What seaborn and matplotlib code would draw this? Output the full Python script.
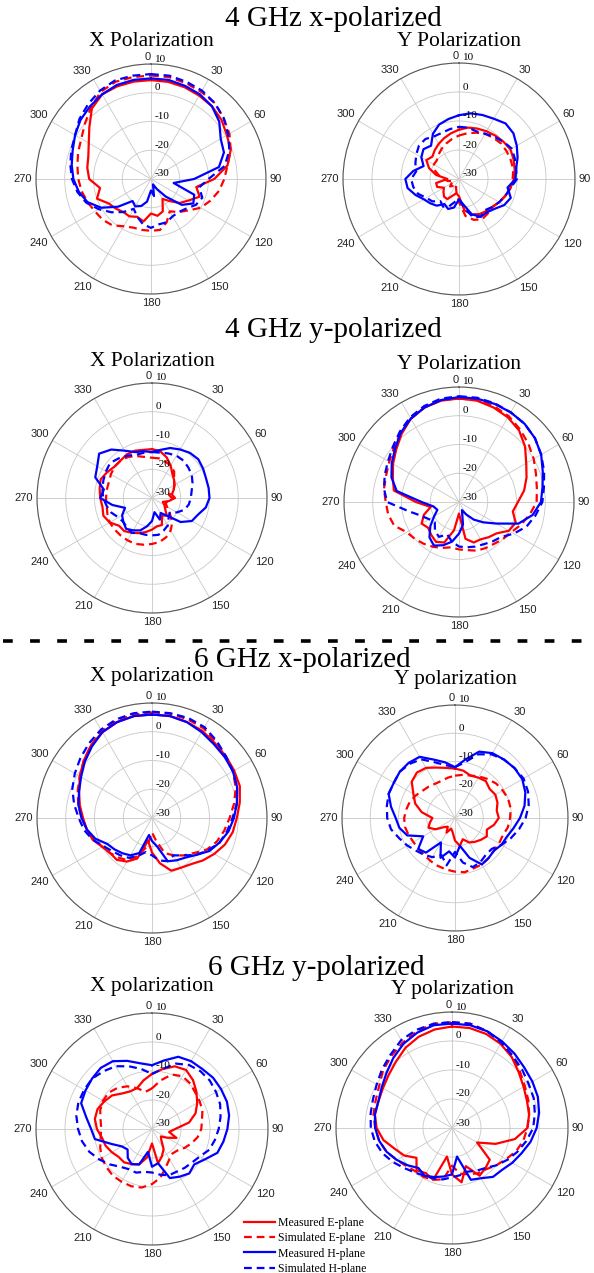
import numpy as np
import pandas as pd
import seaborn as sns
import matplotlib.pyplot as plt
from matplotlib.lines import Line2D
from matplotlib.transforms import offset_copy

# angles in degrees, clockwise from top; gains in dB
angles = np.arange(0, 360, 10)

# 4 GHz x-polarized, X polarization
p1_me = [4.4, 4.3, 4, 3.5, 3, 2, 0.5, -0.5, -3, -8, -14, -12, -15, -17, -20, -22, -18, -17,
         -18, -15, -16, -15, -15, -14, -13, -10, -12, -8.5, -7.5, -6.8, -5, -2, 2, 4, 4.3, 4.4]
p1_se = [6, 6, 5.5, 5, 4.5, 3, 1.5, -0.5, -3, -4.5, -6, -8, -10, -13, -15, -17, -14, -12,
         -12, -12, -12, -11, -9, -8, -7.5, -6.5, -5.5, -4.7, -4, -3, -2, 0, 2.5, 5, 6, 6]
p1_mh = [5, 5, 4.5, 4, 3, 1, -2, -3, -6, -15, -22, -14, -13, -16, -22, -26, -28, -24,
         -26, -22, -20, -19, -20, -15, -10, -6.5, -4.5, -3, -2, -1, 0.5, 2, 3, 4, 4.8, 5]
p1_sh = [6.5, 6.5, 6, 5.5, 4.5, 3, 1, -1, -4, -10, -13, -11, -12, -14, -15, -15, -14, -14,
         -13, -14, -16, -18, -15, -12, -9, -6, -4, -2.5, -1.5, -0.5, 0.5, 2.5, 4, 5.5, 6.5, 6.5]

# 4 GHz x-polarized, Y polarization
p2_me = [-13, -12, -11.5, -11, -10.5, -10, -9.5, -10, -10.5, -11, -12, -13, -14, -15, -15.5, -16, -17, -19,
         -24, -25, -24, -22, -22, -23, -24, -22, -22, -26, -22, -19, -17, -18, -17, -16, -15, -14]
p2_se = [-15, -14, -13, -12, -11.5, -11, -11, -11, -11, -11.5, -12, -13, -14, -15, -14.5, -14, -15, -17,
         -22, -25, -27, -28, -27, -26, -27, -28, -26, -25, -23, -21, -20, -20, -19, -18, -17, -16]
p2_mh = [-8, -7, -6.5, -6, -5, -5.5, -7, -8.5, -10, -10.5, -13, -11, -12, -14, -15, -15, -17, -21,
         -23, -20, -19, -20, -18, -17, -16, -14, -12, -11.5, -14, -17, -15, -14, -15, -12, -10, -9]
p2_sh = [-12, -12, -12.5, -12, -11, -10, -9, -9.5, -10, -10, -12, -13, -14, -15, -16, -15, -16, -20,
         -23, -22, -20, -19, -20, -18, -17, -15, -14, -13.5, -15, -14, -13, -12, -12, -13, -13, -12.5]

# 4 GHz y-polarized, X polarization
p3_me = [-13, -13.5, -15, -17, -19, -20, -21, -22, -23, -22, -24, -26, -25, -24, -22, -23, -20, -20,
         -19, -18, -17, -16, -15, -15, -13, -12, -12.5, -12, -11.5, -11, -12, -13, -13, -12.5, -12.5, -13]
p3_se = [-16, -16, -16.5, -17, -18, -20, -21, -22, -24, -23, -24, -25, -24, -22, -19, -17, -15.5, -14.5,
         -14, -13.5, -13, -13, -13, -13, -13, -13.5, -14, -14, -14, -14, -13.5, -13, -13, -13.5, -14.5, -15.5]
p3_mh = [-14, -13, -11.5, -10.5, -9.5, -9, -9.5, -10, -10, -10, -11, -13, -14, -17, -22, -24, -22, -25,
         -22, -20, -18, -17, -16, -17, -18, -20, -16, -12, -13, -9, -8, -6, -8, -11, -13, -13.5]
p3_sh = [-14, -14, -13.5, -13, -13, -13.5, -14, -15, -16, -16.5, -17, -18, -20, -22, -21, -19, -18, -17,
         -17, -17, -17, -16, -16.5, -17, -16.5, -15, -14, -13, -12.5, -12, -11.5, -11, -12, -13, -14, -14]

# 4 GHz y-polarized, Y polarization
p4_me = [6, 5.8, 5, 4, 2.5, 0, -3, -5, -7, -9.5, -11, -9, -10, -13, -14, -15, -15, -17,
         -26, -20, -15, -14, -15, -16, -15, -17, -20, -15, -7, -5.5, -3.5, -1.5, 1, 3.5, 5, 5.8]
p4_se = [6, 6, 5.5, 4.5, 3, 1.5, 0, -1.5, -2.5, -3, -5, -7, -9, -10, -11, -11.5, -12, -13,
         -13.5, -14, -13, -12, -11, -10, -9, -6, -5, -4.5, -3.5, -3, -2, -0.5, 1.5, 3.5, 5, 6]
p4_mh = [6.5, 6.5, 6.3, 6, 5.5, 4.5, 3, 1, -0.5, -1.5, -4, -8, -15, -19, -22, -25, -27, -22,
         -19, -16, -14, -12.5, -14, -17, -20, -22, -21, -17, -8, -5, -3, -1, 1.5, 3.5, 5, 6]
p4_sh = [6.8, 6.8, 6.5, 6, 5.5, 4.5, 3, 1.5, 0, -1, -3, -5, -8, -11, -12, -13, -13.5, -14,
         -14.5, -16, -18, -16, -17, -19, -18, -16, -12, -5, -3.5, -2.5, -1.5, 0, 2, 4, 5.5, 6.5]

# 6 GHz x-polarized, X polarization
p5_me = [6, 6, 5.5, 5, 4, 3.5, 3, 2.5, 1, -0.5, -1.5, -3, -5, -7, -9, -10, -10.5, -14,
         -18, -22, -15, -12.5, -11, -11, -10, -8, -7, -6, -4.5, -3, -1, 1, 3, 4.5, 5.5, 6]
p5_se = [6.8, 6.8, 6.5, 6, 4.5, 3.5, 2.5, 1, -1, -3, -4.5, -6, -8, -11, -13, -15, -17, -22,
         -25, -20, -16, -13, -12, -11, -10, -8.5, -7, -5.5, -4, -2.5, -1, 1, 3, 5, 6, 6.5]
p5_mh = [6, 6, 5.5, 4.5, 3.5, 3, 2.5, 1.5, 0, -1.5, -3, -5, -7, -10, -12, -13, -14, -20,
         -22, -24, -17, -15, -14, -13, -12, -9, -7, -5.5, -4, -3, -1.5, 0.5, 2.5, 4.5, 5.5, 6]
p5_sh = [7, 7, 7, 6.5, 5, 3.5, 2.5, 1.5, 0, -2, -3.5, -5, -7.5, -10, -13, -15, -14, -15,
         -17, -18, -16, -14, -13, -12, -10.5, -8, -6, -4.5, -2.5, -0.5, 1, 2.5, 4, 5.5, 6.5, 7]

# 6 GHz x-polarized, Y polarization
p6_me = [-12.5, -13, -14, -13.5, -13, -14, -13.5, -14, -15, -14.5, -16, -18, -17, -18, -19, -20, -22, -20,
         -22, -25, -26, -24, -26, -25, -22, -20, -21, -22, -18, -15, -13, -10, -9, -9.5, -11, -12]
p6_se = [-15, -14.5, -14, -13, -12, -11, -10.5, -10, -10, -10.5, -11, -12, -12, -12, -11.5, -11, -11, -10.5,
         -11, -11.5, -12, -12.5, -13, -13, -13, -12.5, -12, -12, -12.5, -13, -14, -15, -15.5, -16, -16, -15.5]
p6_mh = [-12, -9, -5, -3.5, -3, -2.5, -2.5, -3.5, -5, -7, -9, -10.5, -11, -12, -11.5, -11, -15, -20,
         -16, -18, -15, -20, -14, -13, -17, -12, -10, -9, -7, -5, -5, -4.5, -4.5, -5, -8, -10]
p6_sh = [-12, -10, -6, -4, -3, -2.5, -2, -2.5, -3.5, -5, -7, -9, -11, -13, -13, -12, -11.5, -14,
         -18, -13, -16, -14, -13, -12, -10.5, -9, -7, -6, -5.5, -5, -5, -4.5, -5, -6, -9, -11]

# 6 GHz y-polarized, X polarization
p7_me = [-11, -9, -7, -6.5, -8, -10, -12, -14, -17, -22, -24, -21, -24, -26, -25, -22, -20, -18,
         -25, -20, -17, -16, -15, -15, -14, -13, -12.5, -11, -10, -10, -11, -12, -14, -15, -15, -13]
p7_se = [-16, -13, -10, -9, -9.5, -10.5, -11, -11.5, -12.5, -13, -14, -15.5, -17, -18.5, -19, -18, -16, -13,
         -11, -9.5, -9, -9, -9, -9.5, -10, -11, -12, -12.5, -12, -11, -10.5, -10.5, -11.5, -13, -15, -17]
p7_mh = [-8, -6, -3.5, -3, -3, -2.5, -2.5, -2.5, -3, -4, -5, -6, -9, -11, -10, -11, -12, -18,
         -17, -22, -17, -16, -17, -19, -18, -15, -10, -9, -7, -4, -3.5, -3, -2.5, -3, -5, -7]
p7_sh = [-11, -9, -6, -4.5, -4, -4, -4.5, -5, -6, -7, -8, -9, -11, -12, -12.5, -13, -13, -14,
         -15, -15, -14, -14, -13, -11, -9, -7, -5.5, -4.5, -3.5, -3, -3, -3, -4, -5, -7, -9]

# 6 GHz y-polarized, Y polarization
p8_me = [5, 5, 4.5, 3.5, 2, 0, -1.5, -2.5, -3, -4, -8, -14, -20, -13, -12, -11, -16, -11,
         -14, -20, -11, -12, -11, -14, -11, -9, -6, -4, -3, -3, -2.5, -1.5, 0, 2, 3.5, 4.5]
p8_se = [6.5, 6.5, 5.5, 4, 2.5, 0.5, -1, -2, -3, -4, -5, -6.5, -8.5, -10, -11.5, -12, -13, -14,
         -17, -12, -11, -10.5, -10.5, -9.5, -8, -6, -4.5, -3.5, -2.5, -2, -1, 1, 2.5, 4, 5.5, 6.5]
p8_mh = [6, 6, 5.5, 4.5, 3.5, 2.5, 2, 1.5, 0.5, -0.8, -2.5, -4.5, -6, -7.5, -8, -10, -11, -20,
         -14, -13, -12, -11, -12, -10, -8, -6, -4.5, -3.5, -3, -3, -2, -0.5, 1.5, 3.5, 5, 6]
p8_sh = [6.5, 6.5, 5.5, 4, 2.5, 1.5, 0.5, 0, -1, -2, -4, -6, -8, -10, -12, -13, -14, -13.5,
         -13, -12, -11.5, -11, -10, -8.5, -6.5, -4.5, -3, -2, -1.5, -1, 0, 1.5, 3, 5, 6, 6.5]

curve_names = ["Measured E-plane", "Simulated E-plane", "Measured H-plane", "Simulated H-plane"]
curve_colors = ["#ff0000", "#ff0000", "#0000ff", "#0000ff"]
curve_dashes = ["", (3.5, 2.2), "", (3.5, 2.2)]

r_ticks = [-30, -20, -10, 0, 10]
theta_ticks = list(range(0, 360, 30))

group_titles = ["4 GHz x-polarized", "4 GHz y-polarized", "6 GHz x-polarized", "6 GHz y-polarized"]
sub_titles = ["X Polarization", "Y Polarization", "X Polarization", "Y Polarization",
              "X polarization", "Y polarization", "X polarization", "Y polarization"]
panel_data = [(p1_me, p1_se, p1_mh, p1_sh), (p2_me, p2_se, p2_mh, p2_sh),
              (p3_me, p3_se, p3_mh, p3_sh), (p4_me, p4_se, p4_mh, p4_sh),
              (p5_me, p5_se, p5_mh, p5_sh), (p6_me, p6_se, p6_mh, p6_sh),
              (p7_me, p7_se, p7_mh, p7_sh), (p8_me, p8_se, p8_mh, p8_sh)]

W, H = 594, 1273
# centre x, centre y, radius (pixels) of each polar plot
panel_geom = [(151, 179, 115), (459, 179, 116), (152, 498, 115), (459, 502, 115),
              (152, 818, 115), (455, 818, 113), (152, 1129, 116), (452, 1128, 116)]
title_pos = [(333, 26), (333, 337), (302, 667), (316, 975)]
sub_base = [46, 46, 366, 369, 681, 684, 991, 994]

SERIF = "Liberation Serif"
SANS = "Liberation Sans"

fig = plt.figure(figsize=(W / 100, H / 100), dpi=100)

for i, (geom, curves) in enumerate(zip(panel_geom, panel_data)):
    cx, cy, R = geom
    ax = fig.add_axes([(cx - R) / W, (H - cy - R) / H, 2 * R / W, 2 * R / H], projection="polar")

    # long-form table, closing each curve back to 0 deg
    rows = []
    for name, vals in zip(curve_names, curves):
        th = np.deg2rad(np.append(angles, 360))
        v = np.append(vals, vals[0])
        rows.append(pd.DataFrame({"theta": th, "dB": v, "curve": name}))
    df = pd.concat(rows, ignore_index=True)

    sns.lineplot(data=df, x="theta", y="dB", hue="curve", style="curve",
                 hue_order=curve_names, style_order=curve_names,
                 palette=dict(zip(curve_names, curve_colors)),
                 dashes=dict(zip(curve_names, curve_dashes)),
                 estimator=None, sort=False, lw=1.6, legend=False, ax=ax)

    ax.set_theta_zero_location("N")
    ax.set_theta_direction(-1)
    ax.set_ylim(-30, 10)
    ax.set_yticks(r_ticks)
    ax.set_yticklabels([])
    ax.set_xticks(np.deg2rad(theta_ticks))
    ax.set_xticklabels([])
    ax.set_xticks(np.deg2rad(np.arange(0, 360, 10)), minor=True)
    ax.tick_params(axis="x", which="both", direction="in", length=3, width=0.6, color="#555555")
    ax.grid(color="#c8c8c8", lw=0.6)
    ax.spines["polar"].set_color("#555555")
    ax.spines["polar"].set_linewidth(0.8)
    ax.set_xlabel("")
    ax.set_ylabel("")

    # radial labels: just right of the 0-deg spoke, a bit above each ring
    rtrans = offset_copy(ax.transData, fig=fig, x=4, y=5, units="dots")
    for r in r_ticks:
        ax.text(0, r, str(r), transform=rtrans, ha="left", va="center",
                fontsize=8, family=SERIF, clip_on=False)

    # angle labels placed just outside the outer circle
    for a in theta_ticks:
        s, c = np.sin(np.deg2rad(a)), np.cos(np.deg2rad(a))
        ha = "left" if s > 0.3 else ("right" if s < -0.3 else "center")
        va = "bottom" if c > 0.3 else ("top" if c < -0.3 else "center")
        rr = 11.3
        if a == 0:
            ha = "right"
            rr = 10.6
        ax.text(np.deg2rad(a), rr, str(a), ha=ha, va=va, fontsize=8, family=SANS,
                color="#222222", clip_on=False)

    fig.text(cx / W, 1 - sub_base[i] / H, sub_titles[i], ha="center", va="baseline",
             fontsize=15.5, family=SERIF)

for t, (tx, ty) in zip(group_titles, title_pos):
    fig.text(tx / W, 1 - ty / H, t, ha="center", va="baseline", fontsize=21, family=SERIF)

# dashed separator between 4 GHz and 6 GHz groups
fig.add_artist(Line2D([3 / W, 1], [1 - 641 / H] * 2, color="black", lw=2.6,
                      ls=(0, (2.7, 4.8)), transform=fig.transFigure))

handles = [Line2D([], [], color=c, lw=1.6, ls="-" if d == "" else (0, d))
           for c, d in zip(curve_colors, curve_dashes)]
fig.legend(handles, curve_names, loc="upper left", bbox_to_anchor=(244 / W, 1 - 1217 / H),
           frameon=False, prop={"family": SERIF, "size": 8.5}, handlelength=2.6,
           labelspacing=0.28, handletextpad=0.3, borderaxespad=0, borderpad=0)

fig.savefig("out.png", dpi=100)
